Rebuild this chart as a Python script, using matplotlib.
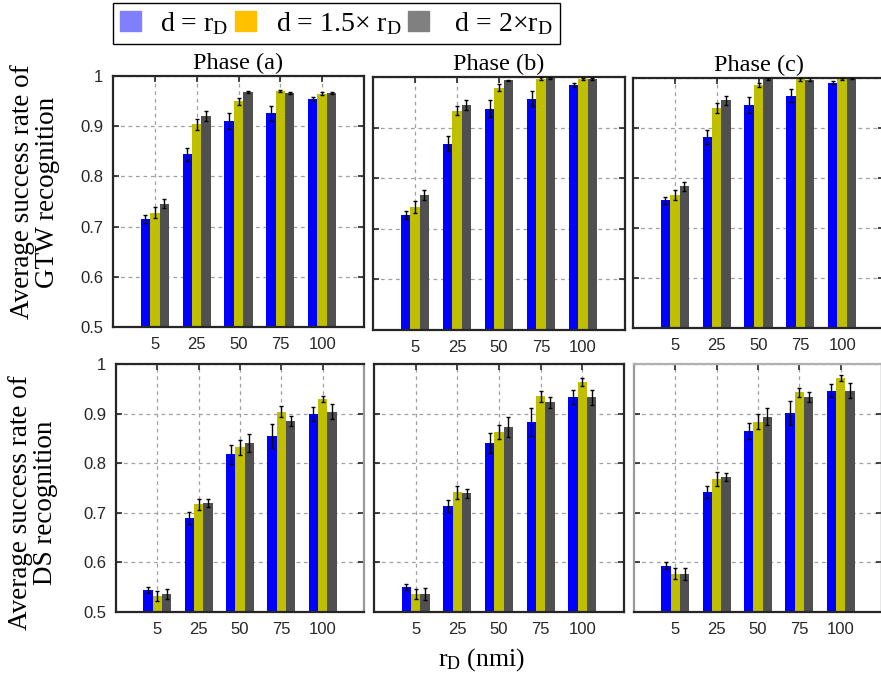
import numpy as np
import matplotlib
matplotlib.use("Agg")
from matplotlib import pyplot as plt
from matplotlib.patches import Patch

plt.rcParams['font.family'] = 'Liberation Serif'
plt.rcParams['mathtext.fontset'] = 'custom'
plt.rcParams['mathtext.rm'] = 'Liberation Serif'
plt.rcParams['mathtext.it'] = 'Liberation Serif:italic'

# r_D values (nmi) used as categories
rd_labels = ['5', '25', '50', '75', '100']
phases = ['Phase (a)', 'Phase (b)', 'Phase (c)']
series_labels = ['d = r$_\\mathrm{D}$', 'd = 1.5$\\times$ r$_\\mathrm{D}$', ' d = 2$\\times$r$_\\mathrm{D}$']

# GTW recognition, rows: d = rD, 1.5 rD, 2 rD
gtw_a = [[0.715, 0.844, 0.911, 0.926, 0.954],
         [0.728, 0.904, 0.950, 0.970, 0.965],
         [0.746, 0.920, 0.968, 0.967, 0.967]]
gtw_a_err = [[0.008, 0.013, 0.016, 0.015, 0.004],
             [0.011, 0.011, 0.007, 0.002, 0.003],
             [0.009, 0.010, 0.002, 0.002, 0.002]]
gtw_b = [[0.728, 0.868, 0.937, 0.957, 0.985],
         [0.743, 0.933, 0.979, 0.997, 0.997],
         [0.766, 0.944, 0.994, 0.998, 0.996]]
gtw_b_err = [[0.008, 0.015, 0.017, 0.015, 0.004],
             [0.012, 0.009, 0.007, 0.003, 0.002],
             [0.010, 0.010, 0.001, 0.002, 0.002]]
gtw_c = [[0.755, 0.882, 0.947, 0.965, 0.991],
         [0.766, 0.940, 0.987, 0.998, 0.999],
         [0.783, 0.956, 0.999, 0.997, 1.000]]
gtw_c_err = [[0.006, 0.014, 0.016, 0.013, 0.003],
             [0.010, 0.010, 0.004, 0.003, 0.002],
             [0.009, 0.009, 0.002, 0.003, 0.002]]

# DS recognition
ds_a = [[0.545, 0.690, 0.818, 0.855, 0.899],
        [0.533, 0.717, 0.832, 0.904, 0.929],
        [0.536, 0.719, 0.840, 0.885, 0.904]]
ds_a_err = [[0.006, 0.012, 0.019, 0.025, 0.014],
            [0.010, 0.011, 0.015, 0.011, 0.006],
            [0.010, 0.008, 0.018, 0.011, 0.015]]
ds_b = [[0.551, 0.714, 0.840, 0.883, 0.933],
        [0.536, 0.741, 0.863, 0.935, 0.964],
        [0.536, 0.739, 0.873, 0.923, 0.933]]
ds_b_err = [[0.006, 0.012, 0.020, 0.029, 0.014],
            [0.010, 0.014, 0.014, 0.011, 0.008],
            [0.012, 0.009, 0.020, 0.011, 0.015]]
ds_c = [[0.593, 0.742, 0.865, 0.901, 0.946],
        [0.577, 0.769, 0.884, 0.943, 0.971],
        [0.577, 0.773, 0.894, 0.933, 0.946]]
ds_c_err = [[0.007, 0.012, 0.017, 0.024, 0.013],
            [0.011, 0.014, 0.016, 0.009, 0.006],
            [0.012, 0.008, 0.017, 0.010, 0.015]]

bar_colors = ['#0000ff', '#bfbf00', '#505050']
legend_colors = ['#8080ff', '#ffc000', '#808080']
yticks = [0.5, 0.6, 0.7, 0.8, 0.9, 1.0]
ytick_labels = ['0.5', '0.6', '0.7', '0.8', '0.9', '1']

W, H = 881, 675
fig = plt.figure(figsize=(W / 100, H / 100), dpi=100)


def box(l, t, r, b):
    return [l / W, 1 - b / H, (r - l) / W, (b - t) / H]


def panel(rect, means, errs, title=None, show_y=False):
    ax = fig.add_axes(box(*rect))
    x = np.arange(1, len(rd_labels) + 1)
    w = 0.225
    for k in range(3):
        ax.bar(x + (k - 1) * w, means[k], w, color=bar_colors[k],
               linewidth=0, zorder=2)
        ax.errorbar(x + (k - 1) * w, means[k], yerr=errs[k], fmt='none',
                    ecolor='black', elinewidth=1.0, capsize=1.6,
                    capthick=1.0, zorder=3)
    ax.set_xlim(0, 6)
    ax.set_ylim(0.5, 1.0)
    ax.set_xticks(x)
    ax.set_xticklabels(rd_labels, family='Liberation Sans', fontsize=12)
    ax.set_yticks(yticks)
    if show_y:
        ax.set_yticklabels(ytick_labels, family='Liberation Sans', fontsize=12)
    else:
        ax.set_yticklabels([])
    ax.grid(True, linestyle=(0, (3, 3)), color='#a0a0a0', linewidth=0.9, zorder=0)
    ax.set_axisbelow(True)
    ax.tick_params(direction='in', length=4, width=1.2, top=True, right=True,
                   colors='#262626', pad=7)
    for s in ax.spines.values():
        s.set_linewidth(1.6)
        s.set_color('#262626')
    if title:
        ax.set_title(title, fontsize=17.5, pad=5)
    return ax


panel((113, 76, 364, 327), gtw_a, gtw_a_err, phases[0], show_y=True)
panel((373, 77, 625, 330), gtw_b, gtw_b_err, phases[1])
panel((633, 78, 884, 328), gtw_c, gtw_c_err, phases[2])

ax_d1 = panel((116, 364, 364, 612), ds_a, ds_a_err, show_y=True)
ax_d1.spines['right'].set_color('#9a9a9a')
panel((374, 364, 624, 612), ds_b, ds_b_err)
ax_d3 = panel((634, 364, 882, 612), ds_c, ds_c_err)
ax_d3.spines['left'].set_color('#9a9a9a')
ax_d3.spines['top'].set_color('#b0b0b0')

fig.text(35 / W, 1 - 192 / H, 'Average success rate of\nGTW recognition',
         rotation=90, ha='center', va='center', fontsize=19.5, linespacing=1.0)
fig.text(33 / W, 1 - 503 / H, 'Average success rate of\nDS recognition',
         rotation=90, ha='center', va='center', fontsize=19.5, linespacing=1.0)
fig.text(481 / W, 1 - 660 / H, 'r$_\\mathrm{D}$ (nmi)', ha='center', va='center',
         fontsize=18.5)

handles = [Patch(facecolor=c, edgecolor=c) for c in legend_colors]
fig.legend(handles, series_labels, ncol=3, loc='upper left',
           bbox_to_anchor=(113 / W, 1 - 3 / H), borderaxespad=0,
           fontsize=20, handlelength=0.75, handleheight=0.75,
           handletextpad=0.7, columnspacing=0.25, borderpad=0.25,
           frameon=True, fancybox=False, edgecolor='black', framealpha=1)

fig.savefig('out.png', dpi=100)
